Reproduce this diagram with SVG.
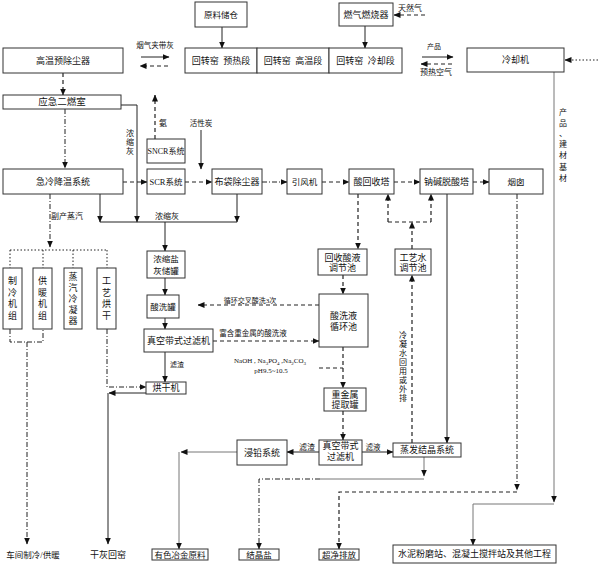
<svg xmlns="http://www.w3.org/2000/svg" width="599" height="569" viewBox="0 0 599 569">
<style>
.box{fill:#fff;stroke:#333;stroke-width:1}
.t{font-family:'Liberation Serif','Noto Sans CJK SC',serif;font-size:9px;fill:#111;text-anchor:middle;dominant-baseline:central}
.l{font-family:'Liberation Serif','Noto Sans CJK SC',serif;font-size:7.5px;fill:#111;text-anchor:middle;dominant-baseline:central}
.s{stroke:#222;fill:none;stroke-width:1}
.g{stroke:#777}
.d{stroke-dasharray:4 3;stroke-width:1.2}
.dd{stroke-dasharray:5 2 1 2}
.dt{stroke-dasharray:1.5 2}
</style>
<defs>
<marker id="a" markerWidth="7" markerHeight="6" refX="6.5" refY="3" orient="auto" markerUnits="userSpaceOnUse"><path d="M0,0L7,3L0,6z" fill="#111"/></marker>
</defs>
<rect width="599" height="569" fill="#fff"/>

<g id="connectors">
<path class="s" d="M222,27V48" marker-end="url(#a)"/>
<path class="s" d="M365,26V48" marker-end="url(#a)"/>
<path class="s d" d="M425,15H394" marker-end="url(#a)"/>
<path class="s" d="M141,57H169" marker-end="url(#a)"/>
<path class="s d" d="M168,66H140" marker-end="url(#a)"/>
<path class="s" d="M422,57H453" marker-end="url(#a)"/>
<path class="s d" d="M452,64H421" marker-end="url(#a)"/>
<path class="s dt" d="M598,60H565" marker-end="url(#a)"/>
<path class="s g" d="M554,72V502" marker-end="url(#a)"/>
<path class="s g" d="M554,504H473V545" marker-end="url(#a)"/>
<path class="s d" d="M63,73V95" marker-end="url(#a)"/>
<path class="s dd" d="M65,109V168" marker-end="url(#a)"/>
<path class="s" d="M121,105H137V222" marker-end="url(#a)"/>
<path class="s d" d="M123,182H147" marker-end="url(#a)"/>
<path class="s d" d="M155,139V95" marker-end="url(#a)"/>
<path class="s" d="M201,130V169" marker-end="url(#a)"/>
<path class="s d" d="M185,182H212" marker-end="url(#a)"/>
<path class="s dd" d="M262,182H287" marker-end="url(#a)"/>
<path class="s d" d="M322,182H349" marker-end="url(#a)"/>
<path class="s d" d="M394,182H420" marker-end="url(#a)"/>
<path class="s d" d="M473,182H489" marker-end="url(#a)"/>
<path class="s" d="M100,194V222" marker-end="url(#a)"/>
<path class="s" d="M237,194V222" marker-end="url(#a)"/>
<path class="s" d="M100,222H237"/>
<path class="s" d="M165,222V251" marker-end="url(#a)"/>
<path class="s dd" d="M50,194V247" marker-end="url(#a)"/>
<path class="s dt" d="M10,250H107M10,250V268M43,250V268M73,250V268M107,250V268"/>
<path class="s dd" d="M10,329V342H43V329M27,342V544" marker-end="url(#a)"/>
<path class="s dd" d="M107,329V387H146" marker-end="url(#a)"/>
<path class="s" d="M146,393H109" marker-end="url(#a)"/>
<path class="s" d="M108,393V544" marker-end="url(#a)"/>
<path class="s" d="M165,278V295" marker-end="url(#a)"/>
<path class="s" d="M165,318V329" marker-end="url(#a)"/>
<path class="s" d="M165,352V382" marker-end="url(#a)"/>
<path class="s d" d="M319,305H198" marker-end="url(#a)"/>
<path class="s d" d="M213,341H319" marker-end="url(#a)"/>
<path class="s d" d="M358,194V249" marker-end="url(#a)"/>
<path class="s d" d="M343,275V294" marker-end="url(#a)"/>
<path class="s d" d="M343,347V388" marker-end="url(#a)"/>
<path class="s d" d="M319,368H343"/>
<path class="s d" d="M343,411V440" marker-end="url(#a)"/>
<path class="s" d="M319,452H287" marker-end="url(#a)"/>
<path class="s" d="M362,452H393" marker-end="url(#a)"/>
<path class="s" d="M447,194V443" marker-end="url(#a)"/>
<path class="s d" d="M412,443V275" marker-end="url(#a)"/>
<path class="s d" d="M412,249V222" marker-end="url(#a)"/>
<path class="s d" d="M388,222H431"/>
<path class="s d" d="M388,222V194" marker-end="url(#a)"/>
<path class="s d" d="M431,222V194" marker-end="url(#a)"/>
<path class="s dd" d="M517,194V490" marker-end="url(#a)"/>
<path class="s d" d="M517,492H339V549" marker-end="url(#a)"/>
<path class="s g" d="M424,457V476" marker-end="url(#a)"/>
<path class="s g" d="M424,479H320"/>
<path class="s dd" d="M320,479H259V549" marker-end="url(#a)"/>
<path class="s g" d="M237,452H181" marker-end="url(#a)"/>
<path class="s g" d="M179,452V549" marker-end="url(#a)"/>
<text class="l" x="155" y="45">烟气夹带灰</text>
<text class="l" x="434" y="47" style="font-size:7px">产品</text>
<text class="l" x="436" y="72" style="font-size:8px">预热空气</text>
<text class="l" x="410" y="8" style="font-size:8px">天然气</text>
<text class="l" x="163" y="123" style="font-size:8px">氨</text>
<text class="l" x="201" y="123">活性炭</text>
<text class="l" x="130" style="font-size:8px"><tspan x="130" y="133">浓</tspan><tspan x="130" y="142">缩</tspan><tspan x="130" y="151">灰</tspan></text>
<text class="l" x="167" y="216" style="font-size:8px">浓缩灰</text>
<text class="l" x="67" y="216" style="font-size:8px">副产蒸汽</text>
<text class="l" x="177" y="365" style="font-size:7px">滤渣</text>
<text class="l" x="250" y="301" style="font-size:7px">循环交叉酸洗3次</text>
<text class="l" x="253" y="333">富含重金属的酸洗液</text>
<text class="l" x="270" y="361" style="font-size:7px">NaOH , Na<tspan baseline-shift="sub" font-size="5">3</tspan>PO<tspan baseline-shift="sub" font-size="5">4</tspan> ,Na<tspan baseline-shift="sub" font-size="5">2</tspan>CO<tspan baseline-shift="sub" font-size="5">3</tspan></text>
<text class="l" x="271" y="371" style="font-size:7px">pH9.5~10.5</text>
<text class="l" x="307" y="447" style="font-size:8px">滤渣</text>
<text class="l" x="373" y="447">滤液</text>
<text class="l" style="font-size:8px"><tspan x="403" y="335">冷</tspan><tspan x="403" y="344">凝</tspan><tspan x="403" y="353">水</tspan><tspan x="403" y="362">回</tspan><tspan x="403" y="371">用</tspan><tspan x="403" y="380">或</tspan><tspan x="403" y="389">外</tspan><tspan x="403" y="398">排</tspan></text>
<text class="l" style="font-size:8px"><tspan x="563" y="112">产</tspan><tspan x="563" y="123">品</tspan><tspan x="563" y="133">、</tspan><tspan x="563" y="144">建</tspan><tspan x="563" y="155">材</tspan><tspan x="563" y="167">基</tspan><tspan x="563" y="178">材</tspan></text>
</g>

<g id="n-yuanliao"><rect class="box" x="195" y="2" width="52" height="25"/><text class="t" x="221" y="14.5" style="font-size:8.5px">原料储仓</text></g>
<g id="n-ranqi"><rect class="box" x="339" y="3" width="54" height="23"/><text class="t" x="366" y="15">燃气燃烧器</text></g>
<g id="n-kiln1"><rect class="box" x="185" y="48" width="72" height="25"/><text class="t" x="221" y="60.5" xml:space="preserve">回转窑  预热段</text></g>
<g id="n-kiln2"><rect class="box" x="257" y="48" width="72" height="25"/><text class="t" x="293" y="60.5" xml:space="preserve">回转窑  高温段</text></g>
<g id="n-kiln3"><rect class="box" x="329" y="48" width="73" height="25"/><text class="t" x="365.5" y="60.5" xml:space="preserve">回转窑  冷却段</text></g>
<g id="n-lengque"><rect class="box" x="467" y="48" width="97" height="24"/><text class="t" x="515.5" y="60">冷却机</text></g>
<g id="n-gaowen"><rect class="box" x="3" y="48" width="120" height="25"/><text class="t" x="63" y="60.5">高温预除尘器</text></g>
<g id="n-yingji"><rect class="box" x="3" y="95" width="118" height="14"/><text class="t" x="62" y="102" style="font-size:9.5px">应急二燃室</text></g>
<g id="n-jileng"><rect class="box" x="3" y="169" width="120" height="25"/><text class="t" x="63" y="181.5">急冷降温系统</text></g>
<g id="n-sncr"><rect class="box" x="147" y="139" width="38" height="24"/><text class="t" x="166" y="151" style="font-size:8px">SNCR系统</text></g>
<g id="n-scr"><rect class="box" x="147" y="169" width="38" height="25"/><text class="t" x="166" y="181.5" style="font-size:8.5px">SCR系统</text></g>
<g id="n-budai"><rect class="box" x="212" y="169" width="50" height="25"/><text class="t" x="237" y="181.5">布袋除尘器</text></g>
<g id="n-yinfeng"><rect class="box" x="287" y="169" width="35" height="25"/><text class="t" x="304.5" y="181.5" style="font-size:8.5px">引风机</text></g>
<g id="n-suanhuishou"><rect class="box" x="349" y="169" width="45" height="25"/><text class="t" x="371.5" y="181.5">酸回收塔</text></g>
<g id="n-najian"><rect class="box" x="420" y="169" width="53" height="25"/><text class="t" x="446.5" y="181.5">钠碱脱酸塔</text></g>
<g id="n-yancong"><rect class="box" x="489" y="169" width="54" height="25"/><text class="t" x="516" y="181.5" style="font-size:8.5px">烟囱</text></g>
<g id="n-zhileng"><rect class="box" x="3" y="268" width="19" height="61"/><text class="t"><tspan x="12.5" y="281">制</tspan><tspan x="12.5" y="292.5">冷</tspan><tspan x="12.5" y="304">机</tspan><tspan x="12.5" y="315.5">组</tspan></text></g>
<g id="n-gongnuan"><rect class="box" x="33" y="268" width="19" height="61"/><text class="t"><tspan x="42.5" y="281">供</tspan><tspan x="42.5" y="292.5">暖</tspan><tspan x="42.5" y="304">机</tspan><tspan x="42.5" y="315.5">组</tspan></text></g>
<g id="n-zhengqi"><rect class="box" x="64" y="268" width="18" height="61"/><text class="t"><tspan x="73" y="276.5">蒸</tspan><tspan x="73" y="287.5">汽</tspan><tspan x="73" y="298.5">冷</tspan><tspan x="73" y="309.5">凝</tspan><tspan x="73" y="320.5">器</tspan></text></g>
<g id="n-gongyi"><rect class="box" x="97" y="268" width="19" height="61"/><text class="t"><tspan x="106.5" y="281">工</tspan><tspan x="106.5" y="292.5">艺</tspan><tspan x="106.5" y="304">烘</tspan><tspan x="106.5" y="315.5">干</tspan></text></g>
<g id="n-nongsuo"><rect class="box" x="147" y="251" width="38" height="27"/><text class="t" style="font-size:8.5px"><tspan x="166" y="259">浓缩盐</tspan><tspan x="166" y="271">灰储罐</tspan></text></g>
<g id="n-suanxiguan"><rect class="box" x="147" y="295" width="32" height="23"/><text class="t" x="163" y="306.5" style="font-size:8.5px">酸洗罐</text></g>
<g id="n-zhenkong1"><rect class="box" x="144" y="329" width="69" height="23"/><text class="t" x="178.5" y="340.5">真空带式过滤机</text></g>
<g id="n-honggan"><rect class="box" x="146" y="382" width="40" height="12"/><text class="t" x="166" y="388">烘干机</text></g>
<g id="n-huishou"><rect class="box" x="318" y="249" width="49" height="26"/><text class="t"><tspan x="342.5" y="257.5">回收酸液</tspan><tspan x="342.5" y="268">调节池</tspan></text></g>
<g id="n-gongyishui"><rect class="box" x="395" y="249" width="36" height="26"/><text class="t"><tspan x="413" y="257.5">工艺水</tspan><tspan x="413" y="268">调节池</tspan></text></g>
<g id="n-xunhuan"><rect class="box" x="319" y="294" width="49" height="53"/><text class="t"><tspan x="343.5" y="315.5">酸洗液</tspan><tspan x="343.5" y="327">循环池</tspan></text></g>
<g id="n-zhongjinshu"><rect class="box" x="324" y="388" width="42" height="23"/><text class="t"><tspan x="345" y="394.5">重金属</tspan><tspan x="345" y="405">提取罐</tspan></text></g>
<g id="n-zhenkong2"><rect class="box" x="319" y="440" width="43" height="25"/><text class="t"><tspan x="340.5" y="446">真空带式</tspan><tspan x="340.5" y="457">过滤机</tspan></text></g>
<g id="n-jinqian"><rect class="box" x="237" y="440" width="50" height="25"/><text class="t" x="262" y="452.5">浸铅系统</text></g>
<g id="n-zhengfa"><rect class="box" x="393" y="443" width="68" height="14"/><text class="t" x="427" y="450">蒸发结晶系统</text></g>
<g id="n-youse"><rect class="box" x="152" y="549" width="56" height="11"/><text class="t" x="180" y="554.5" style="font-size:8.5px">有色冶金原料</text></g>
<g id="n-jiejing"><rect class="box" x="239" y="549" width="40" height="11"/><text class="t" x="259" y="554.5" style="font-size:8.5px">结晶盐</text></g>
<g id="n-chaojing"><rect class="box" x="319" y="549" width="40" height="11"/><text class="t" x="339" y="554.5" style="font-size:8.5px">超净排放</text></g>
<g id="n-shuini"><rect class="box" x="393" y="545" width="163" height="18"/><text class="t" x="474.5" y="554">水泥粉磨站、混凝土搅拌站及其他工程</text></g>
<g id="n-chejian"><text class="t" x="33" y="555" style="font-size:8.5px">车间制冷/供暖</text></g>
<g id="n-ganhui"><text class="t" x="108" y="555">干灰回窑</text></g>
</svg>
